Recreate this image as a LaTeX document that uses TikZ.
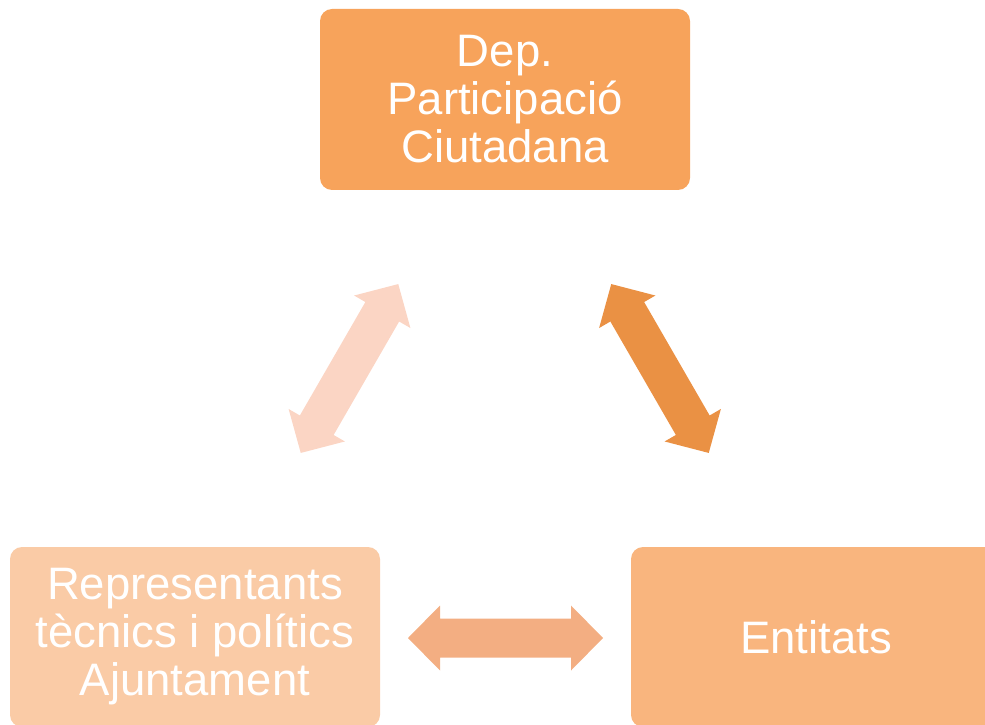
\documentclass[tikz,border=0pt]{standalone}
\usepackage{fontspec}
\setmainfont{Liberation Sans}
\definecolor{cTop}{RGB}{247,163,91}
\definecolor{cLeft}{RGB}{250,203,166}
\definecolor{cRight}{RGB}{249,181,126}
\definecolor{aLeft}{RGB}{251,213,196}
\definecolor{aRight}{RGB}{234,145,68}
\definecolor{aBottom}{RGB}{243,174,130}
\begin{document}
\begin{tikzpicture}[x=1pt,y=1pt,
  box/.style={rounded corners=12pt, minimum width=370pt, text=white, align=center,
    font=\fontsize{45.5}{48}\selectfont, inner sep=0pt},
  dbl/.pic={\fill[pic actions] (-97.5,0) -- (-65.5,32.5) -- (-65.5,19.5) -- (65.5,19.5)
    -- (65.5,32.5) -- (97.5,0) -- (65.5,-32.5) -- (65.5,-19.5) -- (-65.5,-19.5)
    -- (-65.5,-32.5) -- cycle;}]
\useasboundingbox (0,0) rectangle (985,724);
\clip (0,0) rectangle (985,724);
\node[box, fill=cTop, minimum height=181pt] (dep) at (505,624.5) {Dep.\\Participació\\Ciutadana};
\node[box, fill=cLeft, minimum height=180pt] (rep) at (195,87) {Representants\\tècnics i polítics\\Ajuntament};
\node[box, fill=cRight, minimum height=180pt] (ent) at (816,87) {Entitats};
\pic[fill=aLeft, rotate=60] at (349.5,355.5) {dbl};
\pic[fill=aRight, rotate=-60] at (660,355.5) {dbl};
\pic[fill=aBottom] at (505.5,86) {dbl};
\end{tikzpicture}
\end{document}
